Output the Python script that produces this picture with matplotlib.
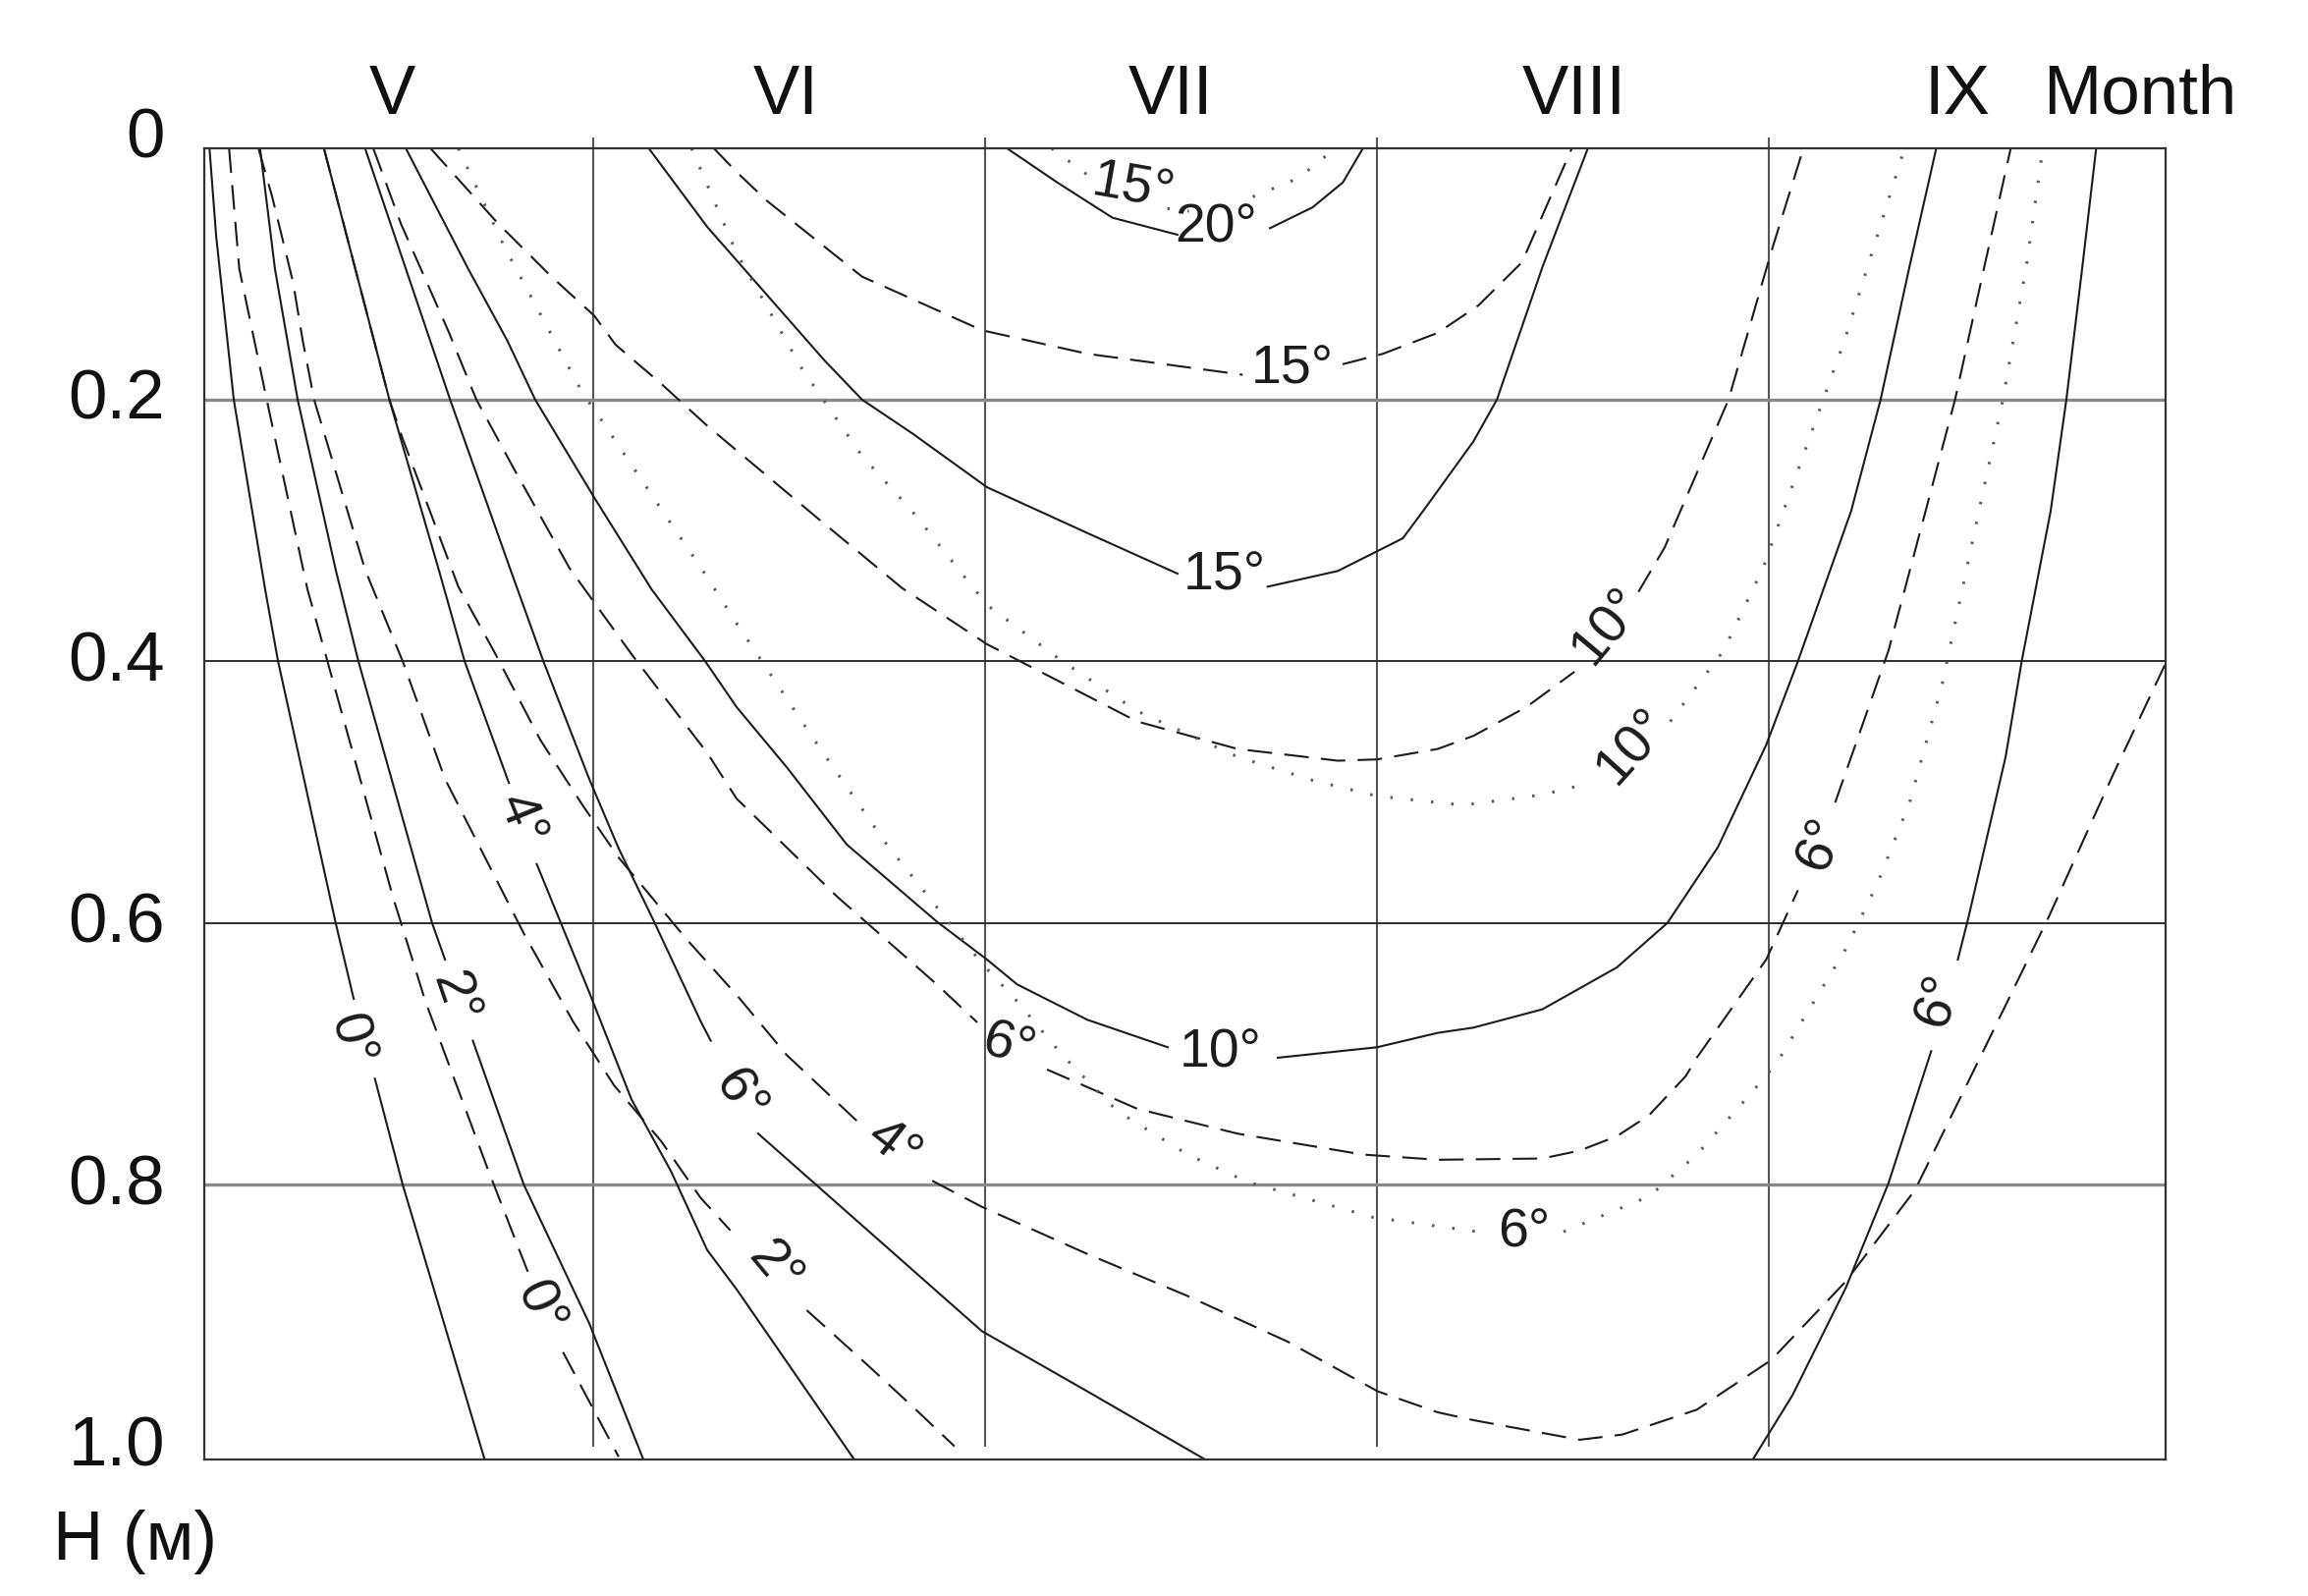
import numpy as np
import matplotlib.pyplot as plt
import matplotlib.transforms as mtransforms

nan = np.nan

# =========================
# AXES TEXT
# =========================
month_names = ["V", "VI", "VII", "VIII", "IX"]
month_label_t = [0.486, 1.491, 2.474, 3.504, 4.481]
month_edges = [1, 2, 3, 4]
depth_ticks = [0, 0.2, 0.4, 0.6, 0.8, 1.0]
depth_labels = ["0", "0.2", "0.4", "0.6", "0.8", "1.0"]

# =========================
# ISOTHERMS  (t = months from 1 May, h = depth in m, nan = gap for the label)
# =========================
# solid series
sol0_t = [0.021, 0.038, 0.083, 0.163, 0.196, 0.343, 0.389, nan, 0.443, 0.514, 0.723]
sol0_h = [0.008, 0.075, 0.200, 0.345, 0.400, 0.600, 0.658, nan, 0.719, 0.800, 1.010]
sol2_t = [0.150, 0.188, 0.246, 0.343, 0.401, 0.589, 0.622, nan, 0.693, 0.823, 0.990, 1.128]
sol2_h = [0.008, 0.100, 0.200, 0.330, 0.400, 0.600, 0.628, nan, 0.690, 0.800, 0.906, 1.010]
sol4_t = [0.313, 0.393, 0.480, 0.606, 0.672, 0.785, nan, 0.856, 0.990, 1.098, 1.199, 1.291, 1.366, 1.666]
sol4_h = [0.008, 0.100, 0.200, 0.330, 0.400, 0.493, nan, 0.555, 0.653, 0.735, 0.790, 0.850, 0.880, 1.010]
sol6_t = [0.418, 0.635, 0.789, 0.873, 0.990, 1.065, 1.157, 1.274, 1.300, nan, 1.421, 1.992, 2.261, 2.561]
sol6_h = [0.008, 0.200, 0.330, 0.400, 0.490, 0.543, 0.600, 0.675, 0.690, nan, 0.761, 0.912, 0.958, 1.010]
sol6r_t = [3.959, 4.060, 4.196, 4.305, 4.414, nan, 4.482, 4.509, 4.604, 4.645, 4.719, 4.759, 4.800, 4.835]
sol6r_h = [1.010, 0.961, 0.879, 0.799, 0.698, nan, 0.628, 0.596, 0.473, 0.400, 0.285, 0.200, 0.098, 0.008]
sol10_t = [0.522, 0.681, 0.781, 0.852, 1.003, 1.149, 1.286, 1.366, 1.494, 1.647, 1.877, 2.005, 2.082,
           2.261, 2.466, nan, 2.747, 3.000, 3.155, 3.246, 3.422, 3.612, 3.741, 3.870, 3.993, 4.074,
           4.210, 4.285, 4.359, 4.427]
sol10_h = [0.008, 0.100, 0.155, 0.200, 0.275, 0.345, 0.400, 0.435, 0.481, 0.540, 0.599, 0.628, 0.647,
           0.674, 0.695, nan, 0.703, 0.695, 0.684, 0.680, 0.666, 0.634, 0.600, 0.542, 0.464, 0.400,
           0.285, 0.200, 0.098, 0.008]
sol15_t = [1.142, 1.291, 1.590, 1.686, 1.815, 2.005, 2.261, 2.491, nan, 2.721, 2.900, 3.066, 3.118,
           3.246, 3.306, 3.423, 3.538]
sol15_h = [0.008, 0.068, 0.170, 0.200, 0.226, 0.267, 0.302, 0.333, nan, 0.343, 0.331, 0.306, 0.285,
           0.232, 0.200, 0.098, 0.008]
sol20_t = [2.056, 2.184, 2.325, 2.491, nan, 2.727, 2.836, 2.913, 2.964]
sol20_h = [0.008, 0.034, 0.061, 0.074, nan, 0.069, 0.053, 0.034, 0.008]

# dashed series
das0_t = [0.071, 0.097, 0.167, 0.271, 0.322, 0.489, 0.572, 0.731, 0.835, nan, 0.923, 1.065]
das0_h = [0.008, 0.100, 0.200, 0.345, 0.400, 0.580, 0.660, 0.788, 0.868, nan, 0.928, 1.008]
das2_t = [0.146, 0.181, 0.234, 0.259, 0.288, 0.418, 0.514, 0.622, 0.823, 0.948, 1.053, 1.174, 1.274,
          1.350, nan, 1.545, 1.686, 1.813, 1.922]
das2_h = [0.008, 0.045, 0.110, 0.155, 0.200, 0.330, 0.400, 0.490, 0.608, 0.675, 0.724, 0.767, 0.810,
          0.835, nan, 0.896, 0.934, 0.969, 1.000]
das4_t = [0.313, 0.393, 0.480, 0.514, 0.656, 0.748, 0.865, 0.973, 1.065, 1.240, 1.366, 1.494, 1.679,
          nan, 1.865, 1.992, 2.261, 2.516, 2.772, 3.002, 3.155, 3.246, 3.517, 3.626, 3.816, 4.006,
          4.196, 4.373, 4.550, 4.713, 4.876, 5.010]
das4_h = [0.008, 0.100, 0.200, 0.230, 0.343, 0.393, 0.460, 0.510, 0.550, 0.613, 0.655, 0.701, 0.753,
          nan, 0.797, 0.817, 0.853, 0.885, 0.920, 0.958, 0.974, 0.980, 0.995, 0.991, 0.972, 0.934,
          0.874, 0.804, 0.696, 0.596, 0.488, 0.403]
das6_t = [0.439, 0.510, 0.631, 0.702, 0.798, 0.940, 1.099, 1.291, 1.366, 1.623, 1.877, 1.980, nan,
          2.158, 2.388, 2.644, 2.964, 3.155, 3.422, 3.517, 3.612, 3.694, 3.788, 3.816, 3.993, 4.074,
          nan, 4.169, 4.305, 4.400, 4.475, 4.550, 4.617]
das6_h = [0.008, 0.066, 0.148, 0.200, 0.253, 0.329, 0.395, 0.470, 0.505, 0.580, 0.647, 0.676, nan,
          0.712, 0.742, 0.761, 0.777, 0.781, 0.780, 0.774, 0.763, 0.747, 0.717, 0.703, 0.628, 0.575,
          nan, 0.508, 0.392, 0.285, 0.200, 0.098, 0.008]
das10_t = [0.585, 0.756, 0.890, 1.003, 1.057, 1.174, 1.291, 1.570, 1.788, 2.005, 2.388, 2.644, 2.900,
           3.000, 3.155, 3.246, 3.381, 3.504, nan, 3.667, 3.734, 3.897, 4.006, 4.088]
das10_h = [0.008, 0.065, 0.105, 0.136, 0.158, 0.188, 0.220, 0.290, 0.344, 0.387, 0.446, 0.467, 0.476,
           0.475, 0.467, 0.457, 0.435, 0.408, nan, 0.347, 0.313, 0.200, 0.087, 0.008]
das15_t = [1.308, 1.366, 1.443, 1.686, 1.992, 2.261, 2.657, nan, 2.912, 3.015, 3.155, 3.259, 3.370, 3.497]
das15_h = [0.008, 0.026, 0.048, 0.106, 0.147, 0.165, 0.181, nan, 0.173, 0.165, 0.149, 0.128, 0.095, 0.008]

# dotted series
dot6_t = [0.656, 0.773, 0.973, 1.015, 1.199, 1.274, 1.366, 1.557, 1.749, 1.877, 1.992, 2.082, 2.197,
          2.338, 2.517, 2.670, 2.990, 3.258, nan, 3.476, 3.694, 3.816, 3.952, 4.020, 4.196, 4.278,
          4.359, 4.441, 4.536, 4.597, 4.658, 4.699]
dot6_h = [0.008, 0.083, 0.195, 0.213, 0.295, 0.328, 0.371, 0.457, 0.540, 0.588, 0.631, 0.660, 0.701,
          0.744, 0.777, 0.798, 0.825, 0.836, nan, 0.836, 0.809, 0.777, 0.731, 0.707, 0.620, 0.569,
          0.508, 0.419, 0.285, 0.200, 0.096, 0.008]
dot10_t = [1.251, 1.366, 1.532, 1.686, 1.813, 2.005, 2.197, 2.388, 2.644, 2.836, 3.000, 3.220, 3.422,
           3.531, nan, 3.748, 3.884, 3.986, 4.196, 4.346]
dot10_h = [0.008, 0.088, 0.176, 0.243, 0.285, 0.357, 0.400, 0.438, 0.473, 0.491, 0.503, 0.510, 0.502,
           0.494, nan, 0.446, 0.392, 0.328, 0.152, 0.008]
dot15_t = [2.170, 2.287, nan, 2.465, 2.520, nan, 2.683, 2.798, 2.894]
dot15_h = [0.008, 0.034, nan, 0.054, 0.056, nan, 0.045, 0.031, 0.008]

# isotherm labels
label_text = ["0°", "2°", "4°", "0°", "6°", "2°", "4°", "6°", "10°", "15°", "15°", "20°", "15°",
              "10°", "10°", "6°", "6°", "6°"]
label_t = [0.380, 0.645, 0.815, 0.862, 1.370, 1.460, 1.765, 2.060, 2.600, 2.610, 2.785, 2.589, 2.378,
           3.590, 3.653, 4.133, 3.374, 4.434]
label_h = [0.690, 0.658, 0.522, 0.895, 0.733, 0.864, 0.771, 0.695, 0.700, 0.335, 0.177, 0.069, 0.039,
           0.373, 0.465, 0.540, 0.837, 0.660]
label_rot = [-75, -71, -68, -66, -57, -50, -38, -15, 0, 0, 0, 0, -10, 50, 48, 68, 0, 72]

# =========================
# FIGURE
# =========================
plt.rcParams['font.family'] = ['Liberation Sans', 'DejaVu Sans']
ink = '#1c1c1c'

fig = plt.figure(figsize=(23.5, 16.25), dpi=100)
ax = fig.add_axes([0.0883, 0.0855, 0.8498, 0.8217])
ax.set_xlim(0.0065, 5.011)
ax.set_ylim(1.0101, 0.0078)
ax.set_xticks([])
ax.set_yticks([])
for sp in ax.spines.values():
    sp.set_color('#333333')
    sp.set_linewidth(1.6)

# month boundaries and depth lines
ax.vlines(month_edges, 0, 1.0, colors='#555555', lw=1.5, clip_on=False, zorder=1)
for h in depth_ticks[1:-1]:
    light = h in (0.2, 0.8)
    ax.axhline(h, color='#8a8a8a' if light else '#2e2e2e', lw=2.4 if light else 1.4, zorder=1)

SOLID = dict(color=ink, lw=1.5, ls='-', zorder=2)
DASHED = dict(color=ink, lw=1.5, ls=(0, (12, 6)), zorder=2)
DOTTED = dict(color='#5a5a5a', lw=2.2, ls=(0, (0.8, 6)), zorder=2)

for t, h in [(sol0_t, sol0_h), (sol2_t, sol2_h), (sol4_t, sol4_h), (sol6_t, sol6_h),
             (sol6r_t, sol6r_h), (sol10_t, sol10_h), (sol15_t, sol15_h), (sol20_t, sol20_h)]:
    ax.plot(t, h, **SOLID)
for t, h in [(das0_t, das0_h), (das2_t, das2_h), (das4_t, das4_h), (das6_t, das6_h),
             (das10_t, das10_h), (das15_t, das15_h)]:
    ax.plot(t, h, **DASHED)
for t, h in [(dot6_t, dot6_h), (dot10_t, dot10_h), (dot15_t, dot15_h)]:
    ax.plot(t, h, **DOTTED)

for txt, t, h, r in zip(label_text, label_t, label_h, label_rot):
    ax.text(t, h, txt, rotation=r, rotation_mode='anchor', ha='center', va='center',
            family=['Liberation Sans Narrow', 'Liberation Sans'], fontsize=40, color=ink, zorder=3)

# depth labels (left) and month labels (top)
ytr = ax.get_yaxis_transform() + mtransforms.ScaledTranslation(0, -0.20, fig.dpi_scale_trans)
for v, s in zip(depth_ticks, depth_labels):
    ax.text(-0.0198, v, s, transform=ytr, ha='right', va='baseline', fontsize=51, color='#111111')

xtr = ax.get_xaxis_transform() + mtransforms.ScaledTranslation(0, 0.347, fig.dpi_scale_trans)
for t, s in zip(month_label_t, month_names):
    ax.text(t, 1.0, s, transform=xtr, ha='center', va='baseline', fontsize=51, color='#111111')

fig.text(2080 / 2350, 1 - 116 / 1625, "Month", ha='left', va='baseline', fontsize=51, color='#111111')
fig.text(54 / 2350, 1 - 1588 / 1625, "H (м)", ha='left', va='baseline', fontsize=51, color='#111111')

fig.savefig("out.png", dpi=100)
